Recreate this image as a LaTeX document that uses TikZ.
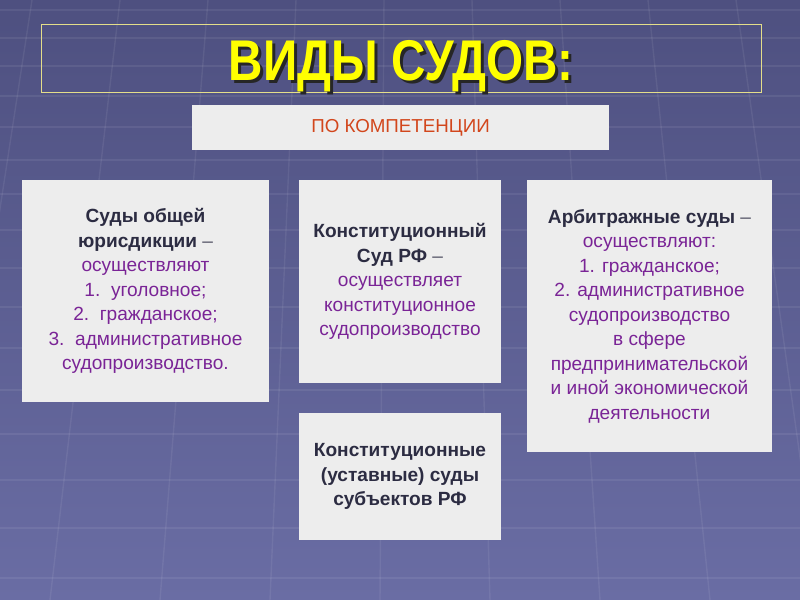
\documentclass[tikz,border=0pt]{standalone}
\usepackage{fontspec}
\setmainfont{Liberation Sans}
\newfontfamily\narrowfont[FakeStretch=0.83]{Liberation Sans}
\usepackage{xcolor}
\usetikzlibrary{positioning, calc}

\definecolor{bgtop}{HTML}{4E5080}
\definecolor{bgbot}{HTML}{6A6DA4}
\definecolor{boxfill}{HTML}{EDEDED}
\definecolor{courtname}{HTML}{2C2C42}
\definecolor{duty}{HTML}{7A2496}
\definecolor{titleyellow}{HTML}{FFFF00}
\definecolor{framey}{HTML}{E4DE8A}
\definecolor{kompred}{HTML}{D2461C}

\newcommand{\cname}[1]{\textcolor{courtname}{\textbf{#1}}}
\newcommand{\cdash}{\textcolor{courtname!80}{–}}

\begin{document}
\begin{tikzpicture}[
  x=0.03cm, y=-0.03cm,
  gridline/.style={draw=white, opacity=0.07, line width=1.2pt},
  titleframe/.style={draw=framey, line width=0.6pt,
    minimum width=21.6cm, minimum height=2.04cm, inner sep=0pt},
  titletext/.style={font=\narrowfont\fontsize{49}{52}\selectfont\bfseries,
    inner sep=0pt, text=titleyellow},
  kompbox/.style={fill=boxfill, inner sep=0pt,
    minimum width=12.51cm, minimum height=1.35cm,
    font=\fontsize{16}{20}\selectfont, text=kompred},
  card/.style={fill=boxfill, align=center, inner sep=0pt,
    font=\fontsize{16.3}{20.9}\selectfont, text=duty}
]
  \fill[top color=bgtop, bottom color=bgbot] (0,0) rectangle (800,600);
  \begin{scope}
    \clip (0,0) rectangle (800,600);
    \foreach \yy in {10,38,66,96,127,160,194,230,268,307,348,390,434,480,528,578}
      \draw[gridline] (0,\yy) -- (800,\yy);
    \foreach \xx in {-500,-390,...,1300} {
      \pgfmathsetmacro{\xtop}{400+(\xx-400)*0.8}
      \draw[gridline] (\xx,600) -- (\xtop,0);
    }
  \end{scope}

  \node[titleframe] (title) at (401,58) {};
  \node[titletext, text=black!85] (titleshadow) at ($(title.center)+(3,11)$) {ВИДЫ СУДОВ:};
  \node[titletext] (titlelabel) at ($(title.center)+(0,8)$) {ВИДЫ СУДОВ:};

  \node[kompbox] (kompet) at (400.5,127.5) {ПО КОМПЕТЕНЦИИ};

  \node[card, minimum width=7.41cm, minimum height=6.66cm] (general) at (145.5,291) {%
    \cname{Суды общей}\\
    \cname{юрисдикции} \cdash\\
    осуществляют\\
    1.\ \ уголовное;\\
    2.\ \ гражданское;\\
    3.\ \ административное\\
    судопроизводство.};
  \node[card, minimum width=6.06cm, minimum height=6.09cm] (constit) at (400,281.5) {%
    \cname{Конституционный}\\
    \cname{Суд РФ} \cdash\\
    осуществляет\\
    конституционное\\
    судопроизводство};
  \node[card, minimum width=7.35cm, minimum height=8.16cm] (arbitr) at (649.5,316) {%
    \cname{Арбитражные суды} \cdash\\
    осуществляют:\\
    1. гражданское;\\
    2. административное\\
    судопроизводство\\
    в сфере\\
    предпринимательской\\
    и иной экономической\\
    деятельности};
  \node[card, minimum width=6.06cm, minimum height=3.81cm] (subjects) at (400,476.5) {%
    \cname{Конституционные}\\
    \cname{(уставные) суды}\\
    \cname{субъектов РФ}};
\end{tikzpicture}
\end{document}
